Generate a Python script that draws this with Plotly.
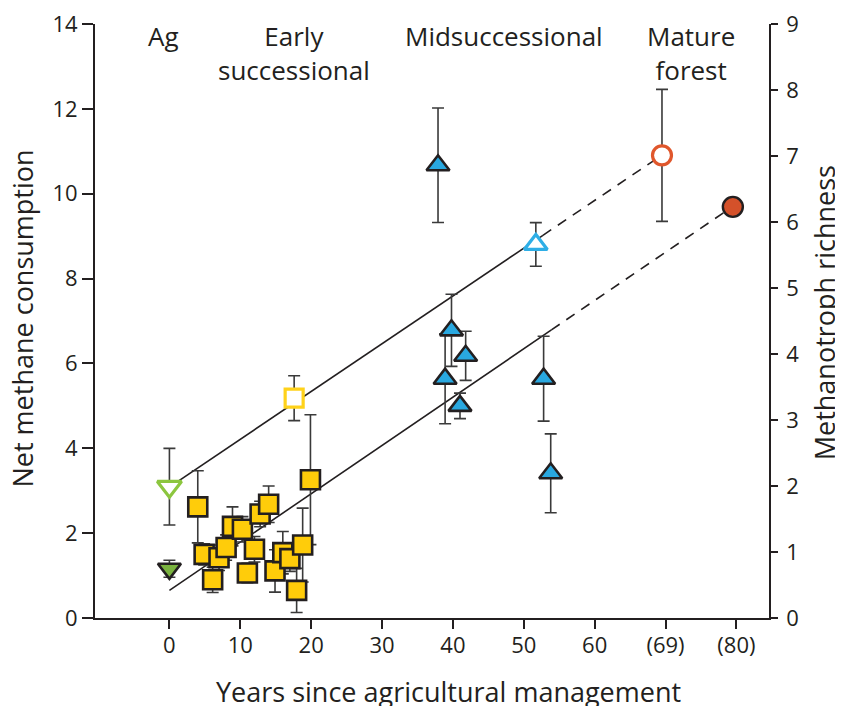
import plotly.graph_objects as go

# tick labels on the x axis (last two stand for 69 and 80 years)
x_tickvals = [0, 10, 20, 30, 40, 50, 60, 70, 80]
x_ticktext = ["0", "10", "20", "30", "40", "50", "60", "(69)", "(80)"]

# early successional plots - net methane consumption (filled squares)
sq_x = [4.0, 4.9, 7.0, 6.1, 8.0, 8.9, 10.3, 12.8, 14.0, 12.0, 11.0, 14.9, 16.0, 17.0, 18.8, 17.95, 19.9]
sq_y = [2.62, 1.50, 1.42, 0.90, 1.66, 2.16, 2.09, 2.45, 2.68, 1.62, 1.06, 1.11, 1.54, 1.40, 1.72, 0.65, 3.26]
sq_err = [0.85, 0.25, 0.3, 0.3, 0.3, 0.46, 0.3, 0.3, 0.43, 0.3, 0.23, 0.5, 0.5, 0.3, 0.87, 0.52, 1.53]

# midsuccessional plots - net methane consumption (filled triangles)
tri_x = [37.9, 39.8, 41.8, 38.9, 41.0, 52.8, 53.8]
tri_y = [10.67, 6.78, 6.18, 5.64, 5.00, 5.64, 3.41]
tri_err = [1.35, 0.85, 0.58, 1.06, 0.3, 1.0, 0.93]

# ag and mature forest - net methane consumption
ag_x, ag_y, ag_err = [0], [1.16], [0.2]
forest_x, forest_y = [79.5], [9.69]

# methanotroph richness means (open symbols, right axis)
rich_x = [0, 17.6, 51.7, 69.5]
rich_y = [1.99, 3.33, 5.66, 7.01]
rich_err = [0.58, 0.34, 0.33, 1.0]

# fitted lines (solid part, then dashed extension)
rich_fit_x = [0, 52.7, 69.5]
rich_fit_y = [3.085, 9.02, 10.91]
meth_fit_x = [0, 53.9, 79.5]
meth_fit_y = [0.65, 6.79, 9.70]

stage_names = ["Ag", "Early<br>successional", "Midsuccessional", "Mature<br>forest"]
stage_x = [-0.9, 17.6, 47.2, 73.6]

FONT = "Open Sans"
INK = "#231f20"
BAR = "#3a3a3a"

fig = go.Figure()

# regression lines
for fx, fy in [(rich_fit_x, rich_fit_y), (meth_fit_x, meth_fit_y)]:
    fig.add_trace(go.Scatter(x=fx[:2], y=fy[:2], mode="lines",
                             line=dict(color=INK, width=1.6), hoverinfo="skip"))
    fig.add_trace(go.Scatter(x=fx[1:], y=fy[1:], mode="lines",
                             line=dict(color=INK, width=1.6, dash="10px,8px"), hoverinfo="skip"))

def err(vals):
    return dict(type="data", array=vals, color=BAR, thickness=1.6, width=6)

fig.add_trace(go.Scatter(
    x=sq_x, y=sq_y, mode="markers", error_y=err(sq_err),
    marker=dict(symbol="square", size=19, color="#ffcc0a", line=dict(color=INK, width=2.6))))

fig.add_trace(go.Scatter(
    x=tri_x, y=tri_y, mode="markers", error_y=err(tri_err),
    marker=dict(symbol="triangle-up", size=20, color="#29a8e0", line=dict(color=INK, width=2.6))))

fig.add_trace(go.Scatter(
    x=ag_x, y=ag_y, mode="markers", error_y=err(ag_err),
    marker=dict(symbol="triangle-down", size=20, color="#7ab33f", line=dict(color=INK, width=2.6))))

fig.add_trace(go.Scatter(
    x=forest_x, y=forest_y, mode="markers",
    marker=dict(symbol="circle", size=20, color="#d4512a", line=dict(color=INK, width=2.4))))

# open symbols on the richness axis
open_symbols = ["triangle-down", "square", "triangle-up", "circle"]
open_colors = ["#8cc63f", "#ffd21a", "#2eaee6", "#e0572c"]
open_sizes = [21, 18, 20, 19]
for i in range(len(rich_x)):
    fig.add_trace(go.Scatter(
        x=[rich_x[i]], y=[rich_y[i]], mode="markers", yaxis="y2",
        error_y=err([rich_err[i]]),
        marker=dict(symbol=open_symbols[i], size=open_sizes[i], color="white",
                    line=dict(color=open_colors[i], width=3.2))))

annotations = []
for name, sx in zip(stage_names, stage_x):
    annotations.append(dict(x=sx, y=1.0135, xref="x", yref="paper", text=name,
                            showarrow=False, yanchor="top", xanchor="center",
                            font=dict(family=FONT, size=26, color=INK)))

annotations.append(dict(x=0.525, y=-0.09, xref="paper", yref="paper",
                        xanchor="center", yanchor="top",
                        text="Years since agricultural management", showarrow=False,
                        font=dict(family=FONT, size=27, color=INK)))
annotations.append(dict(x=-0.107, y=0.504, xref="paper", yref="paper", textangle=-90,
                        xanchor="center", yanchor="middle",
                        text="Net methane consumption", showarrow=False,
                        font=dict(family=FONT, size=27, color=INK)))
annotations.append(dict(x=1.0835, y=0.5135, xref="paper", yref="paper", textangle=-90,
                        xanchor="center", yanchor="middle",
                        text="Methanotroph richness", showarrow=False,
                        font=dict(family=FONT, size=27, color=INK)))

# the page body adds an 8px offset, so the figure is drawn 8px smaller
fig.update_layout(
    width=835, height=698,
    margin=dict(l=87, r=74, t=16, b=88),
    paper_bgcolor="white", plot_bgcolor="white",
    showlegend=False,
    annotations=annotations,
    font=dict(family=FONT, size=22, color=INK),
    xaxis=dict(range=[-10.5, 84.6], tickvals=x_tickvals, ticktext=x_ticktext,
               showgrid=False, zeroline=False, showline=True, linecolor=INK, linewidth=1.8,
               ticks="outside", ticklen=9, tickwidth=1.6, tickcolor=INK,
               ticklabelstandoff=-2, ticklabeloverflow="allow", automargin=False),
    yaxis=dict(range=[0, 14], dtick=2, showgrid=False, zeroline=False,
               showline=True, linecolor=INK, linewidth=1.8,
               ticks="outside", ticklen=11, tickwidth=1.6, tickcolor=INK,
               ticklabeloverflow="allow", automargin=False),
    yaxis2=dict(range=[0, 9], dtick=1, overlaying="y", side="right",
                showgrid=False, zeroline=False, showline=True, linecolor=INK, linewidth=1.8,
                ticks="outside", ticklen=7, tickwidth=1.6, tickcolor=INK,
                ticklabelstandoff=4, ticklabeloverflow="allow", automargin=False),
)

fig.write_html("out.html")
